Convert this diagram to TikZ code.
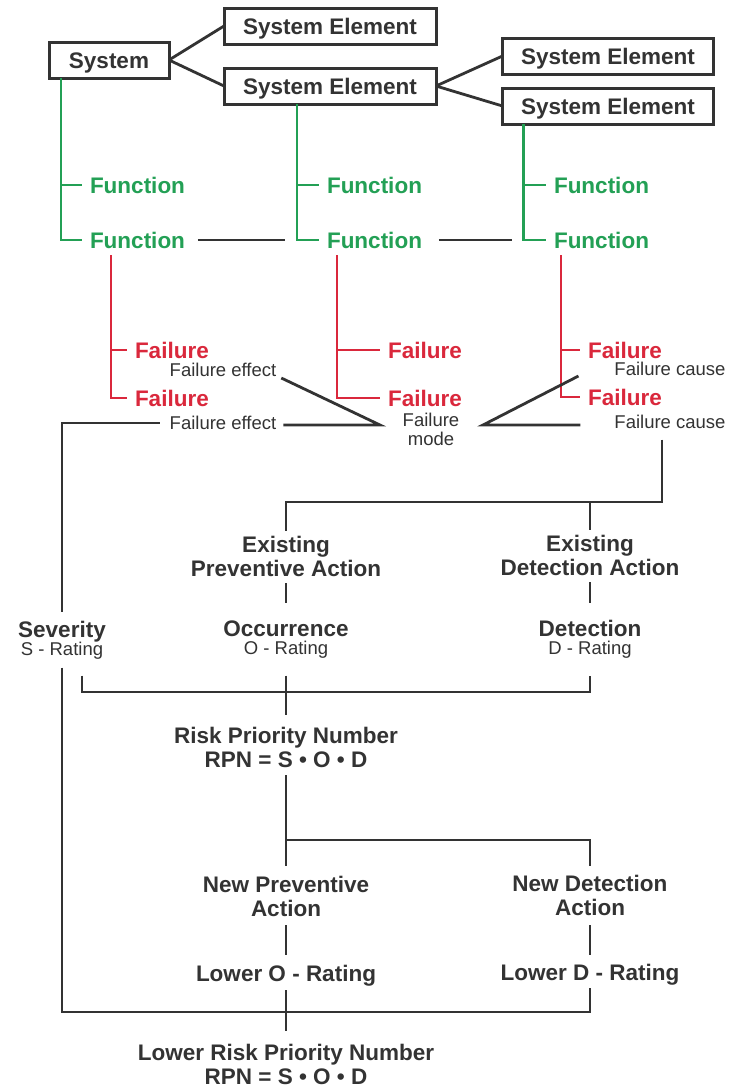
\documentclass[tikz,border=0pt]{standalone}
\usepackage{fontspec}
\setmainfont{Liberation Sans}
\usetikzlibrary{calc}
\definecolor{ink}{RGB}{51,51,51}
\definecolor{fgreen}{RGB}{35,160,85}
\definecolor{fred}{RGB}{218,40,60}
\begin{document}
\begin{tikzpicture}[x=1pt,y=-1pt,
  bold/.style={font=\fontsize{22.5}{24}\selectfont\bfseries, text=ink, inner sep=0pt, outer sep=0pt},
  plain/.style={font=\fontsize{18.5}{19}\selectfont, text=ink, inner sep=0pt, outer sep=0pt},
  one/.style={text height=16.1pt, text depth=0pt},
  onep/.style={text height=13.2pt, text depth=0pt},
  sbox/.style={bold, one, draw=ink, line width=3pt, minimum height=36pt},
  func/.style={bold, one, text=fgreen, anchor=west},
  fail/.style={bold, one, text=fred, anchor=west},
  cline/.style={draw=ink, line width=2.8pt},
  gline/.style={draw=fgreen, line width=2.6pt},
  rline/.style={draw=fred, line width=2.6pt}]
\fill[white] (0,0) rectangle (735,1088);
\useasboundingbox (0,0) rectangle (735,1088);

% system structure
\node[sbox, minimum width=120pt] (sys) at (109,60) {System};
\node[sbox, minimum width=212pt] (se1) at (330,26) {System Element};
\node[sbox, minimum width=212pt] (se2) at (330,86) {System Element};
\node[sbox, minimum width=211pt] (se3) at (608,56) {System Element};
\node[sbox, minimum width=211pt] (se4) at (608,106) {System Element};
\draw[cline] (sys.east) -- (se1.west);
\draw[cline] (sys.east) -- (se2.west);
\draw[cline] (se2.east) -- (se3.west);
\draw[cline] (se2.east) -- (se4.west);

% functions
\node[func] (f11) at (90,185) {Function};
\node[func] (f12) at (90,240) {Function};
\node[func] (f21) at (327,185) {Function};
\node[func] (f22) at (327,240) {Function};
\node[func] (f31) at (554,185) {Function};
\node[func] (f32) at (554,240) {Function};
\coordinate (g1) at ($(sys.south west)+(12,0)$);
\coordinate (g2) at ($(se2.south west)+(73,0)$);
\coordinate (g3) at ($(se4.south west)+(21,0)$);
\foreach \g/\a/\b in {g1/f11/f12, g2/f21/f22, g3/f31/f32}{
  \draw[gline] (\g) |- ([xshift=-8pt]\b.west);
  \draw[gline] (\g |- \a.west) -- ([xshift=-8pt]\a.west);
}
\draw[cline] ([xshift=13pt]f12.east) -- ([xshift=-42pt]f22.west);
\draw[cline] ([xshift=17pt]f22.east) -- ([xshift=-42pt]f32.west);

% failures
\node[fail] (fa11) at (135,350) {Failure};
\node[fail] (fa12) at (135,398) {Failure};
\node[fail] (fa21) at (388,350) {Failure};
\node[fail] (fa22) at (388,398) {Failure};
\node[fail] (fa31) at (588,350) {Failure};
\node[fail] (fa32) at (588,397) {Failure};
\coordinate (r1) at ($(f12.south west)+(21,7)$);
\coordinate (r2) at ($(f22.south west)+(10,7)$);
\coordinate (r3) at ($(f32.south west)+(7,7)$);
\foreach \r/\a/\b in {r1/fa11/fa12, r2/fa21/fa22, r3/fa31/fa32}{
  \draw[rline] (\r) |- ([xshift=-8pt]\b.west);
  \draw[rline] (\r |- \a.west) -- ([xshift=-8pt]\a.west);
}

% failure net
\node[plain, onep] (fe1) at (223,370) {Failure effect};
\node[plain, onep] (fe2) at (223,423) {Failure effect};
\node[plain, align=center] (fm) at (431,429) {Failure\\mode};
\node[plain, onep] (fc1) at (670,369) {Failure cause};
\node[plain, onep] (fc2) at (670,422) {Failure cause};
\coordinate (mL) at (380,425);
\coordinate (mR) at (483,425);
\draw[cline] ([shift={(5,8)}]fe1.east) -- (mL) -- ([shift={(7,2)}]fe2.east);
\draw[cline] ([shift={(-36,7)}]fc1.west) -- (mR) -- ([shift={(-34,3)}]fc2.west);

% ratings
\node[bold, align=center] (epa) at (286,556) {Existing\\Preventive Action};
\node[bold, align=center] (eda) at (590,555) {Existing\\Detection Action};
\node[bold, one] (sev) at (62,629) {Severity};
\node[plain, onep] (sevr) at (62,649) {S - Rating};
\node[bold, one] (occ) at (286,628) {Occurrence};
\node[plain, onep] (occr) at (286,648) {O - Rating};
\node[bold, one] (det) at (590,628) {Detection};
\node[plain, onep] (detr) at (590,648) {D - Rating};
\coordinate (j1) at (662,502);
\draw[cline, shorten <=11pt, shorten >=5pt] (j1 |- fc2.south) -- (j1) -| (epa.north);
\draw[cline, shorten >=5pt] (j1 -| eda.north) -- (eda.north);
\draw[cline, shorten <=7pt, shorten >=17pt] (epa.south) -- (occ.north);
\draw[cline, shorten <=7pt, shorten >=17pt] (eda.south) -- (det.north);
\draw[cline, shorten >=9pt] ([xshift=-10pt]fe2.west) -| (sev.north);

% risk priority number
\node[bold, align=center] (rpn) at (286,747) {Risk Priority Number\\RPN = S • O • D};
\coordinate (k1) at (82,692);
\coordinate (k2) at (590,692);
\draw[cline, shorten <=21pt, shorten >=21pt] (k1 |- occr.south) -- (k1) -- (k2) -- (k2 |- detr.south);
\draw[cline, shorten <=21pt, shorten >=12pt] (occr.south) -- (rpn.north);

% new actions
\node[bold, align=center] (npa) at (286,896) {New Preventive\\Action};
\node[bold, align=center] (nda) at (590,895) {New Detection\\Action};
\node[bold, one] (lor) at (286,973) {Lower O - Rating};
\node[bold, one] (ldr) at (590,972) {Lower D - Rating};
\node[bold, align=center] (lrpn) at (286,1064) {Lower Risk Priority Number\\RPN = S • O • D};
\coordinate (s1) at (286,840);
\draw[cline, shorten <=8pt, shorten >=10pt] (rpn.south) -- (npa.north);
\draw[cline, shorten >=9pt] (s1) -| (nda.north);
\draw[cline, shorten <=9pt, shorten >=10pt] (npa.south) -- (lor.north);
\draw[cline, shorten <=10pt, shorten >=9pt] (nda.south) -- (ldr.north);
\coordinate (b1) at (590,1012);
\draw[cline, shorten <=12pt, shorten >=8pt] (sevr.south) |- (b1) -- (b1 |- ldr.south);
\draw[cline, shorten <=9pt, shorten >=13pt] (lor.south) -- (lrpn.north);
\end{tikzpicture}
\end{document}
